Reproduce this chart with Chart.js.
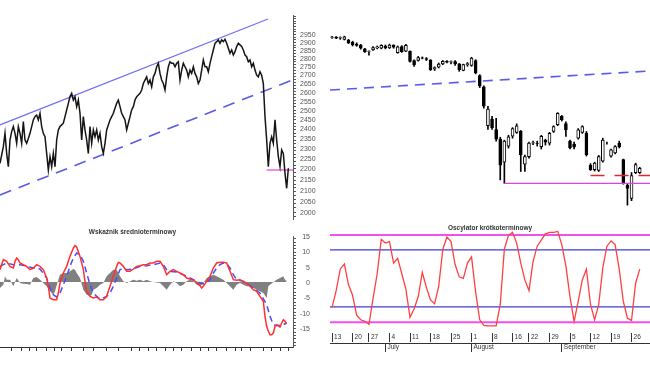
<!DOCTYPE html>
<html lang="pl">
<head>
  <meta charset="UTF-8" />
  <title>WIG20 2011</title>
  <script src="https://cdn.jsdelivr.net/npm/chart.js"></script>
  <style>
    html, body { margin: 0; padding: 0; background: #fff; overflow: hidden; }
    body { width: 650px; height: 366px; position: relative; }
    .box { position: absolute; }
  </style>
</head>
<body>
  <div class="box" style="left:-28px;top:15px;width:326px;height:205px"><canvas id="longChart"></canvas></div>
  <div class="box" style="left:300px;top:20px;width:350px;height:200px"><canvas id="candleChart"></canvas></div>
  <div class="box" style="left:-28px;top:229px;width:326px;height:124px"><canvas id="macdChart"></canvas></div>
  <div class="box" style="left:300px;top:225px;width:350px;height:130px"><canvas id="oscChart"></canvas></div>

  <script>
    // --- long view (top left), one point every ~1.7 px
    const priceLeft = [2170,2216,2263,2340,2225,2152,2301,2350,2380,2340,
      2282,2380,2340,2282,2410,2301,2282,2310,2340,2380,
      2420,2440,2450,2420,2461,2380,2340,2320,2225,2134,
      2207,2152,2225,2152,2301,2360,2380,2390,2400,2440,
      2481,2523,2566,2587,2544,2566,2502,2544,2461,2301,
      2440,2360,2301,2225,2380,2282,2360,2320,2360,2301,
      2340,2263,2225,2282,2360,2390,2420,2440,2461,2492,
      2523,2544,2502,2461,2440,2420,2360,2400,2440,2481,
      2502,2544,2566,2576,2587,2609,2652,2675,2697,2652,
      2675,2630,2697,2720,2766,2790,2720,2675,2652,2609,
      2697,2766,2801,2790,2790,2766,2790,2801,2675,2743,
      2790,2766,2743,2697,2743,2720,2766,2720,2697,2652,
      2675,2743,2813,2766,2766,2731,2790,2837,2885,2934,
      2946,2959,2934,2959,2946,2964,2934,2897,2861,2885,
      2849,2873,2910,2934,2922,2910,2885,2849,2837,2801,
      2813,2766,2790,2743,2708,2697,2731,2708,2652,2440,
      2301,2152,2282,2320,2282,2420,2301,2207,2152,2244,
      2225,2116,2038,2143];
    const channelTop = [[0, 2390], [160.8, 3119]];
    const channelLow = [[0, 2004], [175.8, 2677]];
    const support = 2134;
    const resistance = 2171;

    // --- MACD (bottom left)
    const macdX = [0,2,4,6,8,9,10,11,12,14,16,18,20,22,24,26,28,29,30,32,34,35,36,38,40,42,44,45,46,48,50,51,52,54,56,58,60,62,64,66,68,70,71,72,74,76,78,80,82,84,86,88,90,92,94,96,98,100,101,102,104,106,108,110,112,114,116,118,120,121,122,124,126,128,130,132,134,136,138,140,142,144,146,148,150,152,154,156,158,159,160,161,162,163,164,165,166,167,168,169,170,171,172];
    const macdY = [18.5,33.5,31,23.5,21,31,36,33.5,28.5,26,23.5,18.5,21,26,23.5,18.5,6,-6.5,-24,-26.5,-26.5,-16.5,-1.5,13.5,23.5,38.5,51,54.5,52.5,38.5,18.5,1,-14,-21.5,-24,-22.5,-26.5,-26.5,-21.5,-6.5,8.5,23.5,29.5,28.5,23.5,16,16,19.5,23.5,24.5,26,26,28.5,28.5,31,31,23.5,11,13.5,16,18.5,16,13.5,11,6,4.5,2.5,0,-5.5,-9,-6.5,1,8.5,21,28.5,29.5,29.5,28.5,16,3.5,2.5,3.5,1,-1.5,-6.5,-11.5,-14,-21.5,-29,-51.5,-66.5,-74,-79,-79,-76.5,-66.5,-64,-65.5,-67.5,-61.5,-56.5,-59,-62.5];
    const sigX = [0,4,8,12,16,20,24,28,30,32,34,36,38,40,42,44,46,48,50,52,54,56,58,60,64,66,68,70,72,74,76,80,84,88,92,96,98,100,102,106,112,118,120,122,124,126,128,130,132,134,136,138,140,142,146,152,156,160,162,164,166,170,172];
    const sigY = [23.5,28.5,26,26,23.5,21,19.5,6,-9,-19,-22.5,-16.5,-4,8.5,23.5,36,43.5,41,31,13.5,-4,-16.5,-21.5,-25.5,-21.5,-16.5,-6.5,6,18.5,21,18.5,19.5,23.5,24.5,26,28.5,26,18.5,16,15,8.5,1,-1.5,-3,-1.5,3.5,13.5,21,26,28.5,27.5,21,11,3.5,1,-9,-16.5,-34,-51.5,-64,-65.5,-64,-61.5];
    const histX = [0,2,3,4,6,8,10,12,14,16,18,20,22,24,26,28,30,32,33,35,36,38,40,42,44,45,46,48,50,52,54,55,56,58,60,62,64,66,68,70,72,74,76,80,82,84,86,88,90,92,96,98,100,102,104,106,108,110,112,114,116,118,120,122,124,126,128,130,132,134,136,138,140,142,144,146,148,150,152,154,156,158,160,161,162,164,166,168,170,171,172];
    const histY = [-9,-4,8.5,3.5,3.5,-6.5,6,-1.5,-2.5,-3,-4,6,7.5,3.5,-1.5,-6.5,-14,-19,-14,3.5,11,13.5,13.5,16,19.5,18.5,13.5,6,-11.5,-19,-21.5,-19,-11.5,-9,-4,-1.5,8.5,13.5,18.5,18.5,8.5,1,-1.5,3.5,2,3.5,1,3.5,1,0,-1.5,-6.5,-11.5,-4,1,-1.5,-6.5,-4,1,3.5,1,-4,-6.5,-1.5,6,8.5,11,8.5,6,3.5,-1.5,-6.5,-11.5,-4,-1.5,-4,-6.5,-6.5,-9,-11.5,-14,-16.5,-24,-6.5,-4,-0.5,3.5,6,8.5,3.5,1];
    const leftTicks = [7,13,18,22,28,33,37,43,50,56,64,71,79,84,89,94,99,104,109,115,120,125,130,136,141,145,150,158,163,168,173];

    // --- last months (right side), trading days 2011
    const junDays = [13,14,15,16,17,20,21,22,24,27,28,29,30];
    const julDays = [1,4,5,6,7,8,11,12,13,14,15,18,19,20,21,22,25,26,27,28,29];
    const augDays = [1,2,3,4,5,8,9,10,11,12,16,17,18,19,22,23,24,25,26,29,30,31];
    const sepDays = [1,2,5,6,7,8,9,12,13,14,15,16,19,20,21,22,23,26,27,28,29,30];
    const monthNames = ['June', 'July', 'August', 'September'];

    const opens  = [2935,2936,2930,2922,2918,2905,2890,2886,2862,2846,2856,2868,2866,2880,2868,2884,2838,2876,2848,2846,2790,2790,2806,2802,2792,2740,2750,2770,2785,2780,2784,2770,2730,2765,2760,2790,2700,2635,2420,2455,2400,2350,2235,2315,2365,2385,2390,2225,2262,2330,2330,2312,2345,2330,2390,2425,2470,2432,2340,2325,2355,2385,2381,2220,2199,2195,2240,2330,2265,2280,2330,2248,2126,2065,2184,2184];
    const highs  = [2942,2940,2938,2942,2922,2910,2900,2890,2866,2850,2876,2880,2888,2886,2892,2888,2880,2882,2890,2850,2795,2815,2812,2808,2796,2752,2775,2790,2790,2788,2790,2772,2768,2778,2810,2795,2705,2640,2525,2470,2460,2360,2345,2370,2410,2430,2395,2270,2335,2340,2340,2370,2350,2385,2420,2490,2475,2440,2345,2335,2405,2420,2390,2228,2235,2268,2355,2335,2300,2318,2340,2250,2130,2185,2230,2210];
    const lows   = [2928,2926,2922,2918,2895,2880,2878,2860,2840,2823,2852,2862,2862,2862,2864,2866,2835,2840,2845,2780,2755,2786,2800,2790,2730,2730,2745,2765,2775,2770,2760,2725,2728,2755,2755,2710,2630,2515,2400,2400,2340,2150,2134,2305,2355,2380,2190,2190,2255,2322,2315,2300,2320,2320,2385,2420,2445,2364,2300,2300,2350,2380,2265,2195,2192,2190,2235,2325,2260,2275,2305,2130,2035,2055,2180,2180];
    const closes = [2938,2930,2934,2938,2900,2886,2884,2866,2845,2848,2870,2874,2884,2868,2886,2872,2874,2845,2884,2785,2765,2808,2804,2796,2735,2748,2768,2785,2780,2784,2770,2735,2765,2772,2805,2715,2640,2525,2510,2410,2350,2220,2340,2362,2405,2420,2272,2262,2330,2332,2328,2364,2335,2380,2415,2487,2452,2398,2305,2310,2398,2415,2272,2199,2230,2262,2345,2330,2296,2312,2310,2134,2111,2170,2223,2205];
    const trendRight = [[-0.5, 2616], [77.5, 2727]];
    const supportFrom = 42;
    const resistFrom = 63;
    const priceTicks = [2000,2050,2100,2150,2200,2250,2300,2350,2400,2450,2500,2550,2600,2650,2700,2750,2800,2850,2900,2950];

    const osc = [-8,-2.5,4.5,6.2,-0.5,-4,-10.5,-12,-12.5,-13.5,
      -5,3,14.2,13,13.5,6.5,8,3,-2,-11.2,
      -8.5,-4.5,3.5,-1.5,-5.5,-6.8,-1,11,15,13.5,
      6,2,1.5,6.5,8.5,-3,-12,-13.8,-14,-14,
      -14,-7,11,15.5,16.5,13,6.5,1,-2.5,7,
      12,14,16,16.5,16.5,16.8,12.5,5.5,-4.5,-12.5,
      -6,1,4.5,-7,-12,-7,5,12,13.7,12.5,
      4.5,-6,-11.5,-12.2,0,4.5];
    const oscOuter = [15.6, -12.8];
    const oscInner = [10.8, -7.8];
    const oscTicks = [-15, -10, -5, 0, 5, 10, 15];

    Chart.defaults.font.family = "'Liberation Sans', Arial, sans-serif";
    Chart.defaults.color = '#333';
    Chart.defaults.animation = false;
    Chart.defaults.maintainAspectRatio = false;
    Chart.defaults.plugins.legend.display = false;
    Chart.defaults.plugins.tooltip.enabled = false;
    Chart.defaults.elements.point.radius = 0;
    Chart.defaults.elements.line.tension = 0;

    // fixed axis sizes so the plot areas land where the reference has them
    const fixW = w => s => { s.width = w; s.paddingTop = 0; s.paddingBottom = 0; };
    const fixH = h => s => { s.height = h; s.paddingLeft = 0; s.paddingRight = 0; };
    const pts = (xs, ys) => xs.map((x, i) => ({ x, y: ys[i] }));
    const seg = (a, b) => [{ x: a[0], y: a[1] }, { x: b[0], y: b[1] }];
    const hline = (x0, x1, v) => [{ x: x0, y: v }, { x: x1, y: v }];
    const everyN = (from, to, step) => { const t = []; for (let v = from; v <= to; v += step) t.push({ value: v }); return t; };

    const rulerY = (min, max, step) => ({
      position: 'right', min, max,
      afterBuildTicks: s => { s.ticks = everyN(Math.ceil(min / step) * step, max, step); },
      afterFit: fixW(5),
      ticks: { callback: () => '', font: { size: 1 }, padding: 0, autoSkip: false },
      grid: { drawOnChartArea: false, tickLength: 3, color: '#555' },
      border: { display: true, color: '#555' }
    });

    // day labels for the right side
    const labels = [], weekLbl = [], monthLbl = [];
    let prevDow = 9;
    [junDays, julDays, augDays, sepDays].forEach((days, m) => {
      days.forEach((d, k) => {
        const dow = new Date(2011, 5 + m, d).getDay();
        labels.push(d + '.' + (6 + m) + '.2011');
        weekLbl.push(dow < prevDow ? String(d) : '');
        monthLbl.push(k === 0 && m > 0 ? monthNames[m] : '');
        prevDow = dow;
      });
    });
    const lastX = labels.length - 0.5;

    // top left: two years of closes with the channel
    new Chart(document.getElementById('longChart'), {
      type: 'line',
      data: {
        datasets: [
          { data: priceLeft.map((v, i) => ({ x: i, y: v })), borderColor: '#151515', borderWidth: 1.5 },
          { data: seg(channelTop[0], channelTop[1]), borderColor: '#6e6ef5', borderWidth: 1.2 },
          { data: seg(channelLow[0], channelLow[1]), borderColor: '#5a5ae8', borderWidth: 1.6, borderDash: [12, 8] },
          { data: hline(160, 175.8, support), borderColor: '#e040e0', borderWidth: 1.2 }
        ]
      },
      options: {
        scales: {
          x: { type: 'linear', min: -16.8, max: 175.8, display: false },
          y: Object.assign(rulerY(1882, 3150, 20), { type: 'logarithmic' })
        }
      }
    });

    // top right: candles
    new Chart(document.getElementById('candleChart'), {
      type: 'bar',
      data: {
        labels,
        datasets: [
          { data: lows.map((l, i) => [l, highs[i]]), backgroundColor: '#000', barThickness: 1, grouped: false, order: 3 },
          {
            data: opens.map((o, i) => [o, closes[i]]),
            backgroundColor: opens.map((o, i) => closes[i] >= o ? '#fff' : '#000'),
            borderColor: '#000', borderWidth: 1, borderSkipped: false,
            barThickness: 3, grouped: false, order: 2
          },
          { type: 'line', xAxisID: 'xl', data: seg(trendRight[0], trendRight[1]), borderColor: '#5a5ae8', borderWidth: 1.6, borderDash: [10, 7], order: 1 },
          { type: 'line', xAxisID: 'xl', data: hline(supportFrom, lastX, support), borderColor: '#e040e0', borderWidth: 1.4, order: 1 },
          { type: 'line', xAxisID: 'xl', data: hline(resistFrom, lastX, resistance), borderColor: '#e02828', borderWidth: 1.4, borderDash: [14, 10], order: 1 }
        ]
      },
      options: {
        scales: {
          x: { display: false },
          xl: { type: 'linear', offset: false, min: -0.5, max: lastX, display: false },
          y: {
            type: 'logarithmic', position: 'left', min: 1970, max: 3048,
            afterBuildTicks: s => { s.ticks = priceTicks.map(v => ({ value: v })); },
            afterFit: fixW(30),
            ticks: { autoSkip: false, callback: v => String(v), crossAlign: 'far', color: '#555', font: { size: 7 } },
            grid: { display: false },
            border: { display: false }
          }
        }
      }
    });

    // bottom left: MACD
    new Chart(document.getElementById('macdChart'), {
      type: 'line',
      data: {
        datasets: [
          { data: pts(macdX, macdY), borderColor: '#ff3030', borderWidth: 1.5, order: 1 },
          { data: pts(sigX, sigY), borderColor: '#4a4aff', borderWidth: 1.5, borderDash: [6, 4], order: 2 },
          { data: pts(histX, histY), borderWidth: 0, backgroundColor: '#808080', fill: 'origin', order: 3 }
        ]
      },
      options: {
        plugins: {
          title: { display: true, text: 'Wskaźnik średnioterminowy', fullSize: false, padding: 0, color: '#333', font: { size: 6.5, lineHeight: 1.1 } }
        },
        scales: {
          x: {
            type: 'linear', min: -16.8, max: 175.8,
            afterBuildTicks: s => { s.ticks = leftTicks.map(v => ({ value: v })); },
            afterFit: fixH(6),
            ticks: { callback: () => '', font: { size: 1 }, padding: 0, autoSkip: false },
            grid: { drawOnChartArea: false, tickLength: 4, color: '#333' },
            border: { display: true, color: '#333' }
          },
          y: rulerY(-97.5, 68.8, 5)
        }
      }
    });

    // bottom right: oscillator with week and month axes
    new Chart(document.getElementById('oscChart'), {
      type: 'line',
      data: {
        labels,
        datasets: [
          { data: osc, borderColor: '#ff4040', borderWidth: 1.3, clip: false },
          { xAxisID: 'xl', data: hline(-0.5, lastX, oscOuter[0]), borderColor: '#f050f0', borderWidth: 2 },
          { xAxisID: 'xl', data: hline(-0.5, lastX, oscOuter[1]), borderColor: '#f050f0', borderWidth: 2 },
          { xAxisID: 'xl', data: hline(-0.5, lastX, oscInner[0]), borderColor: '#3c3cd8', borderWidth: 1.4 },
          { xAxisID: 'xl', data: hline(-0.5, lastX, oscInner[1]), borderColor: '#3c3cd8', borderWidth: 1.4 }
        ]
      },
      options: {
        plugins: {
          title: { display: true, text: 'Oscylator krótkoterminowy', fullSize: false, padding: 0, color: '#333', font: { size: 6.5, lineHeight: 1.1 } }
        },
        scales: {
          x: {
            type: 'category', offset: true, position: 'bottom', weight: 0,
            afterBuildTicks: s => { s.ticks = s.ticks.filter(t => weekLbl[t.value] !== ''); },
            afterFit: fixH(10),
            ticks: { autoSkip: false, maxRotation: 0, align: 'start', labelOffset: 2, padding: -9, color: '#333', font: { size: 6.5 }, callback: v => weekLbl[v] },
            grid: { drawOnChartArea: false, tickLength: 9, color: '#333', offset: false },
            border: { display: false }
          },
          xm: {
            type: 'category', offset: true, position: 'bottom', weight: 1,
            afterBuildTicks: s => { s.ticks = s.ticks.filter(t => monthLbl[t.value] !== ''); },
            afterFit: fixH(12),
            ticks: { autoSkip: false, maxRotation: 0, align: 'start', labelOffset: 2, padding: -9, color: '#333', font: { size: 6.5 }, callback: v => monthLbl[v] },
            grid: { drawOnChartArea: false, tickLength: 9, color: '#333', offset: false },
            border: { display: true, color: '#333' }
          },
          xl: { type: 'linear', offset: false, min: -0.5, max: lastX, display: false },
          y: {
            position: 'left', min: -16.3, max: 16.565,
            afterBuildTicks: s => { s.ticks = oscTicks.map(v => ({ value: v })); },
            afterFit: fixW(30),
            ticks: { autoSkip: false, padding: 12, color: '#555', font: { size: 7 } },
            grid: { display: false },
            border: { display: false }
          }
        }
      }
    });
  </script>
</body>
</html>
